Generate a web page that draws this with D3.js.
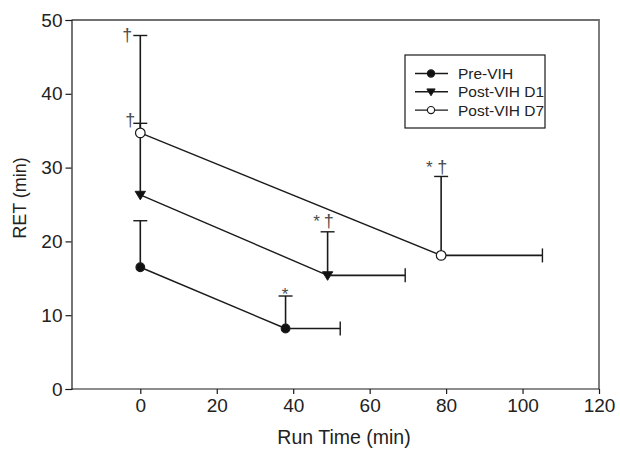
<!DOCTYPE html>
<html><head><meta charset="utf-8">
<script src="https://cdn.jsdelivr.net/npm/d3@7"></script>
<style>body{margin:0;background:#fff}svg{display:block}text{font-family:"Liberation Sans",Arial,sans-serif;fill:#222}</style>
</head><body><svg id="c" width="620" height="451"></svg>
<script>
const xTicks = [0,20,40,60,80,100,120];
const yTicks = [0,10,20,30,40,50];
const seriesNames = ["Pre-VIH","Post-VIH D1","Post-VIH D7"];
const preX = [0,38], preY = [16.5,8.2], preYErr = [22.8,12.6], preXErrEnd = [null,52.3];
const d1X = [0,49], d1Y = [26.3,15.4], d1YErr = [36.0,21.3], d1XErrEnd = [null,69.3];
const d7X = [0,78.7], d7Y = [34.7,18.1], d7YErr = [47.9,28.8], d7XErrEnd = [null,105.2];
const pre = {x:preX,y:preY,ye:preYErr,xe:preXErrEnd,sym:"circle",fill:"#111"};
const d1 = {x:d1X,y:d1Y,ye:d1YErr,xe:d1XErrEnd,sym:"triangle",fill:"#111"};
const d7 = {x:d7X,y:d7Y,ye:d7YErr,xe:d7XErrEnd,sym:"circle",fill:"#fff"};
const series = [pre,d1,d7];
// significance marks: position in data units
const daggerX = [-3.4,-2.6,49.3,79.0];
const daggerY = [47.1,35.6,22.0,29.3];
const starX = [37.9,46.1,75.6];
const starY = [12.1,22.0,29.3];

const svg = d3.select("#c");
const x = d3.scaleLinear().domain([-18,120]).range([71.5,599]);
const y = d3.scaleLinear().domain([0,50]).range([389,20]);
const ink = "#1a1a1a";

svg.append("path").attr("d",`M${x(-18)},${y(50)}H${x(120)}V${y(0)}`).attr("fill","none").attr("stroke","#707070").attr("stroke-width",1.8);

const xa = svg.append("g").attr("transform",`translate(0,${y(0)})`).call(d3.axisBottom(x).tickValues(xTicks).tickSizeOuter(0).tickSize(5).tickPadding(5));
const ya = svg.append("g").attr("transform",`translate(${x(-18)},0)`).call(d3.axisLeft(y).tickValues(yTicks).tickSizeOuter(0).tickSize(6).tickPadding(3));
[xa,ya].forEach(a=>{a.attr("font-size",null).attr("font-family",null);a.selectAll("path,line").attr("stroke",ink).attr("stroke-width",1.2);a.selectAll("text").style("font-size","19px").style("fill","#222").style("font-family","Liberation Sans, Arial, sans-serif");});
xa.select(".domain").attr("d",`M${x(-18)},0H${x(120)}`);

svg.append("text").attr("x",344).attr("y",444).attr("text-anchor","middle").style("font-size","19.5px").text("Run Time (min)");
svg.append("text").attr("transform","translate(26,198) rotate(-90)").attr("text-anchor","middle").style("font-size","18px").text("RET (min)");

const cap = 7;
series.forEach(s=>{
  const g = svg.append("g");
  g.append("path").attr("d",d3.line().x(d=>x(d[0])).y(d=>y(d[1]))(s.x.map((v,i)=>[v,s.y[i]]))).attr("fill","none").attr("stroke",ink).attr("stroke-width",1.4);
  s.x.forEach((xv,i)=>{
    const px=x(xv), py=y(s.y[i]);
    g.append("line").attr("x1",px).attr("x2",px).attr("y1",py).attr("y2",y(s.ye[i])).attr("stroke",ink).attr("stroke-width",1.6);
    g.append("line").attr("x1",px-cap).attr("x2",px+cap).attr("y1",y(s.ye[i])).attr("y2",y(s.ye[i])).attr("stroke",ink).attr("stroke-width",1.4);
    if(s.xe[i]!=null){
      const ex=x(s.xe[i]);
      g.append("line").attr("x1",px).attr("x2",ex).attr("y1",py).attr("y2",py).attr("stroke",ink).attr("stroke-width",1.6);
      g.append("line").attr("x1",ex).attr("x2",ex).attr("y1",py-cap).attr("y2",py+cap).attr("stroke",ink).attr("stroke-width",1.4);
    }
  });
});
function marker(g,sym,fill,cx,cy,r){
  if(sym==="circle") g.append("circle").attr("cx",cx).attr("cy",cy).attr("r",r).attr("fill",fill).attr("stroke",ink).attr("stroke-width",1.2);
  else g.append("path").attr("d",`M${cx-r*1.15},${cy-r*0.8}L${cx+r*1.15},${cy-r*0.8}L${cx},${cy+r*1.1}Z`).attr("fill",fill).attr("stroke",ink).attr("stroke-width",1);
}
series.forEach(s=>{
  const g=svg.append("g");
  s.x.forEach((xv,i)=>marker(g,s.sym,s.fill,x(xv),y(s.y[i]),s.sym==="circle"?(s.fill==="#fff"?4.8:4.3):4.5));
});
daggerX.forEach((v,i)=>{
  svg.append("text").attr("x",x(v)).attr("y",y(daggerY[i])).attr("text-anchor","middle").style("font-size","18px").style("fill","#4a4a4a").text("\u2020");
});
starX.forEach((v,i)=>{
  svg.append("text").attr("x",x(v)).attr("y",y(starY[i])).attr("text-anchor","middle").style("font-size","17px").style("fill","#4a4a4a").text("*");
});

const lg = svg.append("g");
lg.append("rect").attr("x",405).attr("y",55).attr("width",140).attr("height",73).attr("fill","#fff").attr("stroke",ink).attr("stroke-width",1.2);
series.forEach((s,i)=>{
  const ly = 73.5 + i*18.3;
  lg.append("line").attr("x1",415).attr("x2",448).attr("y1",ly).attr("y2",ly).attr("stroke",ink).attr("stroke-width",1.4);
  marker(lg,s.sym,s.fill,431,ly,3.6);
  lg.append("text").attr("x",458).attr("y",ly+5.5).style("font-size","15.5px").text(seriesNames[i]);
});
</script></body></html>
